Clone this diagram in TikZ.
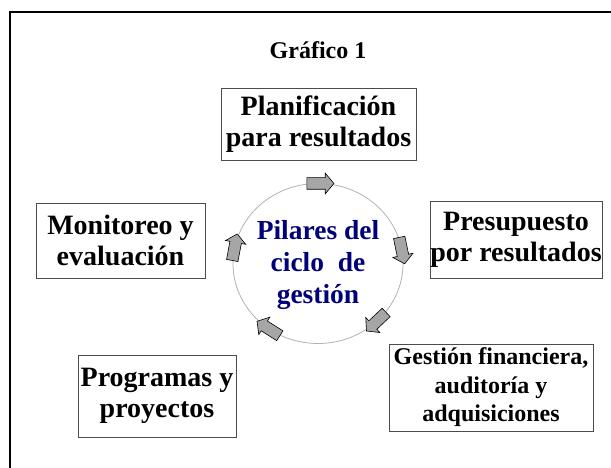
\documentclass[tikz,border=0pt]{standalone}
\usepackage{fontspec}
\setmainfont{Liberation Serif}
\usetikzlibrary{shapes.arrows}
\definecolor{pilar}{RGB}{0,0,120}

\begin{document}
\begin{tikzpicture}[x=1pt, y=1pt,
        caja/.style={draw=black!70, line width=0.8pt, inner sep=0pt, align=center, font=\bfseries\fontsize{28}{31}\selectfont},
        flecha/.style={single arrow, draw=black, fill=black!35, line width=0.6pt, minimum height=27pt, inner xsep=0pt, inner ysep=5.5pt, single arrow head extend=4.5pt, single arrow tip angle=100}]
    \useasboundingbox (0,0) rectangle (611,468);
    \draw[line width=1.5pt] (10,0) -- (10,456) -- (611,456);
    \node[font=\bfseries\fontsize{24}{28}\selectfont, anchor=base] (titulo) at (318,409) {Gráfico 1};
    \node[caja, minimum width=195pt, minimum height=72pt] (plan) at (318.5,344) {Planificación\\para resultados};
    \node[caja, minimum width=172pt, minimum height=77pt] (presupuesto) at (516,228.5) {Presupuesto\\por resultados};
    \node[caja, minimum width=169pt, minimum height=75pt] (monitoreo) at (120.5,227.5) {Monitoreo y\\evaluación};
    \node[caja, minimum width=158pt, minimum height=82pt] (programas) at (157,72) {Programas y\\proyectos};
    \node[caja, minimum width=204pt, minimum height=87pt, font=\bfseries\fontsize{24}{28.5}\selectfont] (gestion) at (491,80.5) {Gestión financiera,\\auditoría y\\adquisiciones};
    \draw[black!30, line width=0.8pt] (318,204.5) ellipse [x radius=85pt, y radius=80pt];
    \node[align=center, text=pilar, font=\bfseries\fontsize{27.5}{32}\selectfont] (pilares) at (318,203) {Pilares del\\ciclo~~de\\gestión};
    \foreach \t in {90,11,-45,-124,170} {
        \pgfmathsetmacro\giro{atan2(-80*cos(\t),85*sin(\t))}
        \node[flecha, rotate=\giro] at ({318+85*cos(\t)},{204.5+80*sin(\t)}) {};
    }
\end{tikzpicture}
\end{document}
